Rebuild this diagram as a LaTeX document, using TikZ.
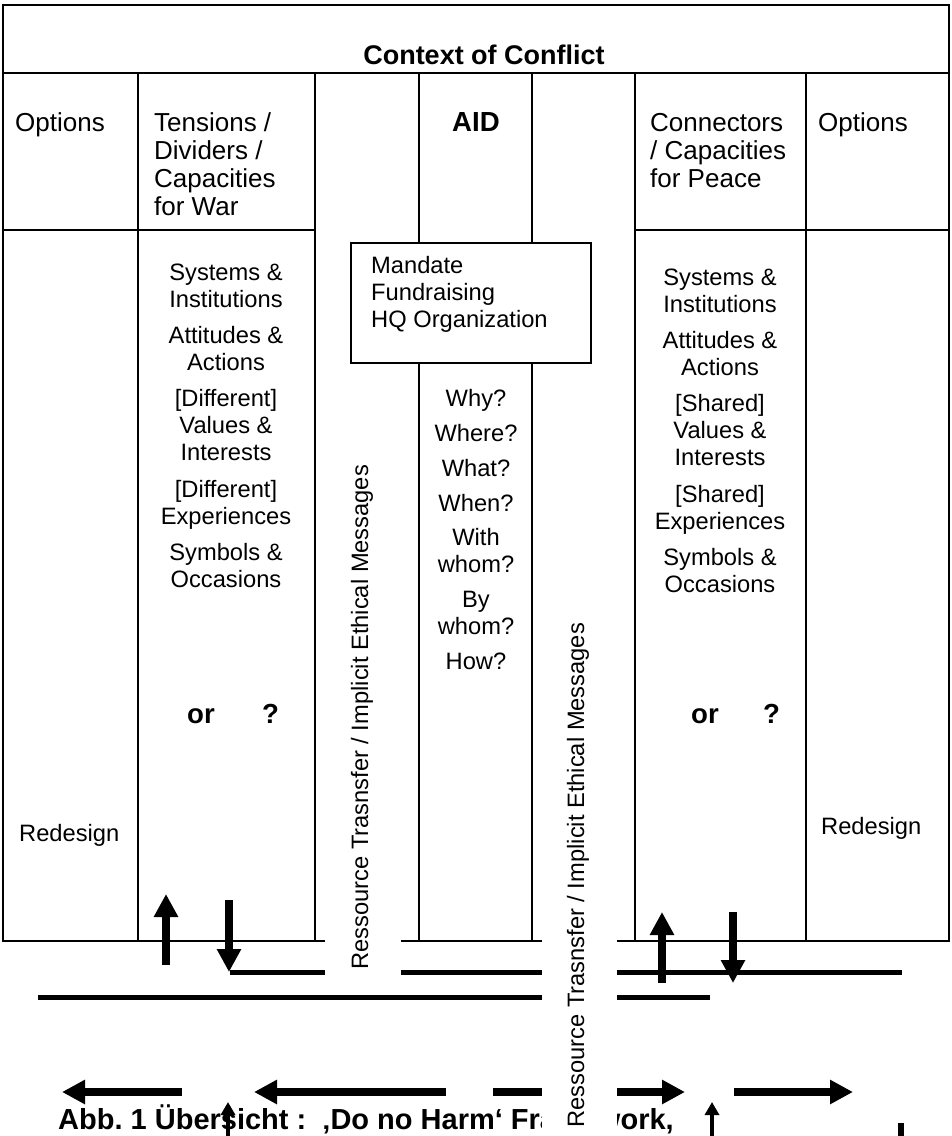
\documentclass[tikz,border=0pt]{standalone}
\usepackage{fontspec}
\setmainfont{Liberation Sans}
\usetikzlibrary{arrows.meta}
\frenchspacing
\begin{document}
\begin{tikzpicture}[x=1pt,y=-1pt,
  grid/.style={line width=2pt},
  frame/.style={line width=2.5pt},
  body/.style={font=\fontsize{23.7}{27}\selectfont, inner sep=0pt, anchor=base},
  bodyl/.style={font=\fontsize{23.7}{27}\selectfont, inner sep=0pt, anchor=base west},
  head/.style={font=\fontsize{26}{28}\selectfont, inner sep=0pt, anchor=base west},
  boldtxt/.style={font=\fontsize{27.6}{30}\selectfont\bfseries, inner sep=0pt, anchor=base},
  boldl/.style={font=\fontsize{27.6}{30}\selectfont\bfseries, inner sep=0pt, anchor=base west},
  vtext/.style={font=\fontsize{23.7}{27}\selectfont, inner sep=0pt, anchor=base west, rotate=90},
  heavy/.style={line width=5pt},
  bigarrow/.style={line width=7.5pt, -{Triangle[length=23pt,width=23pt]}},
  smallarrow/.style={line width=3.5pt, -{Triangle[length=13pt,width=14pt]}},
  mask/.style={fill=white, draw=none, inner sep=0pt}]
\useasboundingbox (0,0) rectangle (952,1136);

% table grid
\draw[frame] (3,5) rectangle (949,941);
\draw[grid] (3,73) -- (949,73);
\draw[grid] (3,230) -- (315,230);
\draw[grid] (635,230) -- (949,230);
\foreach \x in {138,315,419,532,635,806} \draw[grid] (\x,73) -- (\x,941);

% mandate box
\node[draw, fill=white, line width=2pt, minimum width=240pt, minimum height=120pt, inner sep=0pt, anchor=north west] (mandate) at (350,242) {};
\node[bodyl] (m1) at (371,273) {Mandate};
\node[bodyl] (m2) at (371,300) {Fundraising};
\node[bodyl] (m3) at (371,327) {HQ Organization};

% header
\node[font=\fontsize{27}{30}\selectfont\bfseries, inner sep=0pt, anchor=base] (ctx) at (484,64) {Context of Conflict};
\node[head] (optl) at (15,131) {Options};
\node[head] (ten1) at (154,131) {Tensions /};
\node[head] (ten2) at (154,159) {Dividers /};
\node[head] (ten3) at (154,187) {Capacities};
\node[head] (ten4) at (154,215) {for War};
\node[boldtxt] (aid) at (476,131) {AID};
\node[head] (con1) at (650,131) {Connectors};
\node[head] (con2) at (650,159) {/ Capacities};
\node[head] (con3) at (650,187) {for Peace};
\node[head] (optr) at (818,131) {Options};

% left body
\node[body] (l1) at (226,280) {Systems \&};
\node[body] (l2) at (226,307) {Institutions};
\node[body] (l3) at (226,343) {Attitudes \&};
\node[body] (l4) at (226,370) {Actions};
\node[body] (l5) at (226,406) {[Different]};
\node[body] (l6) at (226,433) {Values \&};
\node[body] (l7) at (226,460) {Interests};
\node[body] (l8) at (226,497) {[Different]};
\node[body] (l9) at (226,524) {Experiences};
\node[body] (l10) at (226,560) {Symbols \&};
\node[body] (l11) at (226,587) {Occasions};

% right body
\node[body] (r1) at (720,285) {Systems \&};
\node[body] (r2) at (720,312) {Institutions};
\node[body] (r3) at (720,348) {Attitudes \&};
\node[body] (r4) at (720,375) {Actions};
\node[body] (r5) at (720,411) {[Shared]};
\node[body] (r6) at (720,438) {Values \&};
\node[body] (r7) at (720,465) {Interests};
\node[body] (r8) at (720,502) {[Shared]};
\node[body] (r9) at (720,529) {Experiences};
\node[body] (r10) at (720,565) {Symbols \&};
\node[body] (r11) at (720,592) {Occasions};

% questions
\node[body] (q1) at (476,406) {Why?};
\node[body] (q2) at (476,441) {Where?};
\node[body] (q3) at (476,476) {What?};
\node[body] (q4) at (476,511) {When?};
\node[body] (q5) at (476,545) {With};
\node[body] (q6) at (476,572) {whom?};
\node[body] (q7) at (476,607) {By};
\node[body] (q8) at (476,634) {whom?};
\node[body] (q9) at (476,669) {How?};

% or ?
\node[boldl] (orl) at (187,723) {or};
\node[boldl] (ql) at (262,723) {?};
\node[boldl] (orr) at (691,723) {or};
\node[boldl] (qr) at (763,723) {?};

% redesign
\node[bodyl] (redl) at (19,841) {Redesign};
\node[bodyl] (redr) at (821,834) {Redesign};

% caption
\node[font=\fontsize{29}{32}\selectfont\bfseries, inner sep=0pt, anchor=base west] (cap) at (58,1129) {Abb.\ 1 Übersicht :\ \ ‚Do no Harm‘ Framework,};

% heavy lines below table
\coordinate (h1a) at (230,972); \coordinate (h1b) at (902,972);
\coordinate (h2a) at (38,997);  \coordinate (h2b) at (710,997);
\draw[heavy] (h1a) -- (h1b);
\draw[heavy] (h2a) -- (h2b);

% vertical arrows
\coordinate (ua1) at (166,965); \coordinate (ua1t) at (166,894);
\coordinate (da1) at (229,900); \coordinate (da1t) at (229,972);
\coordinate (ua2) at (662,983); \coordinate (ua2t) at (662,912);
\coordinate (da2) at (733,912); \coordinate (da2t) at (733,983);
\draw[bigarrow] (ua1) -- (ua1t);
\draw[bigarrow] (da1) -- (da1t);
\draw[bigarrow] (ua2) -- (ua2t);
\draw[bigarrow] (da2) -- (da2t);

% horizontal arrows
\coordinate (a1s) at (182,1092); \coordinate (a1t) at (62,1092);
\coordinate (a2s) at (446,1092); \coordinate (a2t) at (254,1092);
\coordinate (a3s) at (493,1092); \coordinate (a3t) at (685,1092);
\coordinate (a4s) at (734,1092); \coordinate (a4t) at (853,1092);
\draw[bigarrow] (a1s) -- (a1t);
\draw[bigarrow] (a2s) -- (a2t);
\draw[bigarrow] (a3s) -- (a3t);
\draw[bigarrow] (a4s) -- (a4t);

% small arrows and bar at the bottom edge
\coordinate (s1s) at (228,1140); \coordinate (s1t) at (228,1102);
\coordinate (s2s) at (712,1140); \coordinate (s2t) at (712,1102);
\draw[smallarrow] (s1s) -- (s1t);
\draw[smallarrow] (s2s) -- (s2t);
\coordinate (b1) at (901,1123); \coordinate (b2) at (901,1140);
\draw[line width=6pt] (b1) -- (b2);

% white text boxes
\node[mask, minimum width=76pt, minimum height=530pt, anchor=north west] (box1) at (325,455) {};
\node[mask, minimum width=75pt, minimum height=530pt, anchor=north west] (box2) at (542,612) {};

% rotated texts
\node[vtext] (vt1) at (368,970) {Ressource Trasnsfer / Implicit Ethical Messages};
\node[vtext] (vt2) at (584,1128) {Ressource Trasnsfer / Implicit Ethical Messages};
\end{tikzpicture}
\end{document}
